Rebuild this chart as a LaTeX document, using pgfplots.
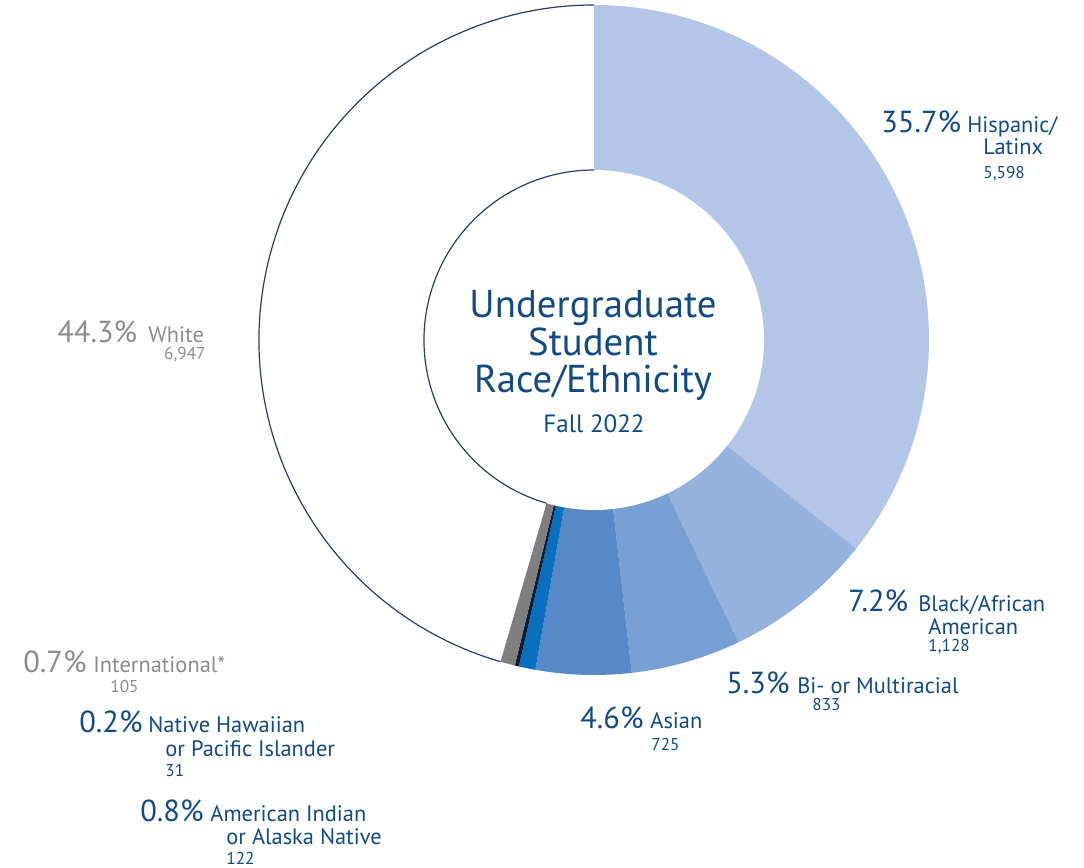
\documentclass[border=0pt]{standalone}
\usepackage{fontspec}
\setmainfont{PT Sans}
\usepackage{pgfplots}
\usepackage{pgfplotstable}
\pgfplotsset{compat=1.18}

\definecolor{c0}{HTML}{B4C6E7}
\definecolor{c1}{HTML}{95B1DD}
\definecolor{c2}{HTML}{779FD4}
\definecolor{c3}{HTML}{5789C9}
\definecolor{c4}{HTML}{0A6FBF}
\definecolor{c5}{HTML}{0C1C3C}
\definecolor{c6}{HTML}{7F7F7F}
\definecolor{c7}{HTML}{FFFFFF}
\definecolor{rim}{HTML}{2E3B66}
\definecolor{txtblue}{HTML}{114A85}
\definecolor{txtgray}{HTML}{8C8C8C}

\newcommand\pct[1]{{\fontsize{15.2}{17}\selectfont #1}}
\newcommand\lab[1]{{\fontsize{11.2}{13}\selectfont #1}}
\newcommand\cnt[1]{{\fontsize{8.6}{10}\selectfont #1}}

% share of all undergraduates, clockwise from 12 o'clock
\pgfplotstableread{
pct   count
35.7  5598
7.2   1128
5.3   833
4.6   725
0.8   122
0.2   31
0.7   105
44.3  6947
}\slices

\begin{document}
\begin{tikzpicture}
% start/end angle of each slice
\xdef\cum{0}
\foreach \i in {0,...,7}{
  \pgfplotstablegetelem{\i}{pct}\of\slices
  \pgfmathsetmacro\sA{90-3.6*\cum}
  \pgfmathsetmacro\eA{90-3.6*(\cum+\pgfplotsretval)}
  \expandafter\xdef\csname sA\i\endcsname{\sA}
  \expandafter\xdef\csname eA\i\endcsname{\eA}
  \pgfmathsetmacro\newcum{\cum+\pgfplotsretval}
  \xdef\cum{\newcum}
}
\xdef\whiteA{\csname sA7\endcsname}
\begin{axis}[
    hide axis, clip=false,
    x=0.5pt, y=0.5pt,
    xmin=0, xmax=1084, ymin=0, ymax=868,
]
\path (axis cs:0,0) rectangle (axis cs:1084,868);
\pgfplotsinvokeforeach{0,...,6}{
  \fill[c#1] (axis cs:594,528) -- ++(\csname sA#1\endcsname:167.5pt)
    arc[start angle=\csname sA#1\endcsname, end angle=\csname eA#1\endcsname, radius=167.5pt] -- cycle;
}
\fill[white] (axis cs:594,528) circle[radius=85pt];
% outline of the white slice
\draw[rim, line width=0.6pt] (axis cs:594,528) ++(\whiteA:167.5pt)
    arc[start angle=\whiteA, end angle=-270, radius=167.5pt];
\draw[rim, line width=0.6pt] (axis cs:594,528) ++(\whiteA:85pt)
    arc[start angle=\whiteA, end angle=-270, radius=85pt];

% centre title
\begin{scope}[txtblue, anchor=base]
\node at (axis cs:593,550) {\fontsize{19.4}{21}\selectfont Undergraduate};
\node at (axis cs:593,512) {\fontsize{19.4}{21}\selectfont Student};
\node at (axis cs:593,475) {\fontsize{19.4}{21}\selectfont Race/Ethnicity};
\node at (axis cs:594,435) {\fontsize{12.5}{14}\selectfont Fall 2022};
\end{scope}

\begin{scope}[anchor=base west, inner sep=0pt, txtblue]
% Hispanic
\node at (axis cs:881,735) {\pct{35.7\%}};
\node at (axis cs:967,735) {\lab{Hispanic/}};
\node at (axis cs:983,713) {\lab{Latinx}};
\node at (axis cs:983,689) {\cnt{5,598}};
% Black
\node at (axis cs:848,256) {\pct{7.2\%}};
\node at (axis cs:918,256) {\lab{Black/African}};
\node at (axis cs:928,233) {\lab{American}};
\node at (axis cs:928,216) {\cnt{1,128}};
% Multiracial
\node at (axis cs:726,174) {\pct{5.3\%}};
\node at (axis cs:797,174) {\lab{Bi- or Multiracial}};
\node at (axis cs:812,157) {\cnt{833}};
% Asian
\node at (axis cs:580,139) {\pct{4.6\%}};
\node at (axis cs:650,139) {\lab{Asian}};
\node at (axis cs:651,117) {\cnt{725}};
% Native Hawaiian
\node at (axis cs:79,135) {\pct{0.2\%}};
\node at (axis cs:148,135) {\lab{Native Hawaiian}};
\node at (axis cs:165,111) {\lab{or Pacific Islander}};
\node at (axis cs:165,91) {\cnt{31}};
% American Indian
\node at (axis cs:140,46) {\pct{0.8\%}};
\node at (axis cs:210,46) {\lab{American Indian}};
\node at (axis cs:226,23) {\lab{or Alaska Native}};
\node at (axis cs:226,3) {\cnt{122}};
\end{scope}

\begin{scope}[anchor=base west, inner sep=0pt, txtgray]
% White
\node at (axis cs:57,525) {\pct{44.3\%}};
\node at (axis cs:148,525) {\lab{White}};
\node[anchor=base east] at (axis cs:206,508) {\cnt{6,947}};
% International
\node at (axis cs:23,195) {\pct{0.7\%}};
\node at (axis cs:93,195) {\lab{International*}};
\node at (axis cs:110,175) {\cnt{105}};
\end{scope}
\end{axis}
\end{tikzpicture}
\end{document}
